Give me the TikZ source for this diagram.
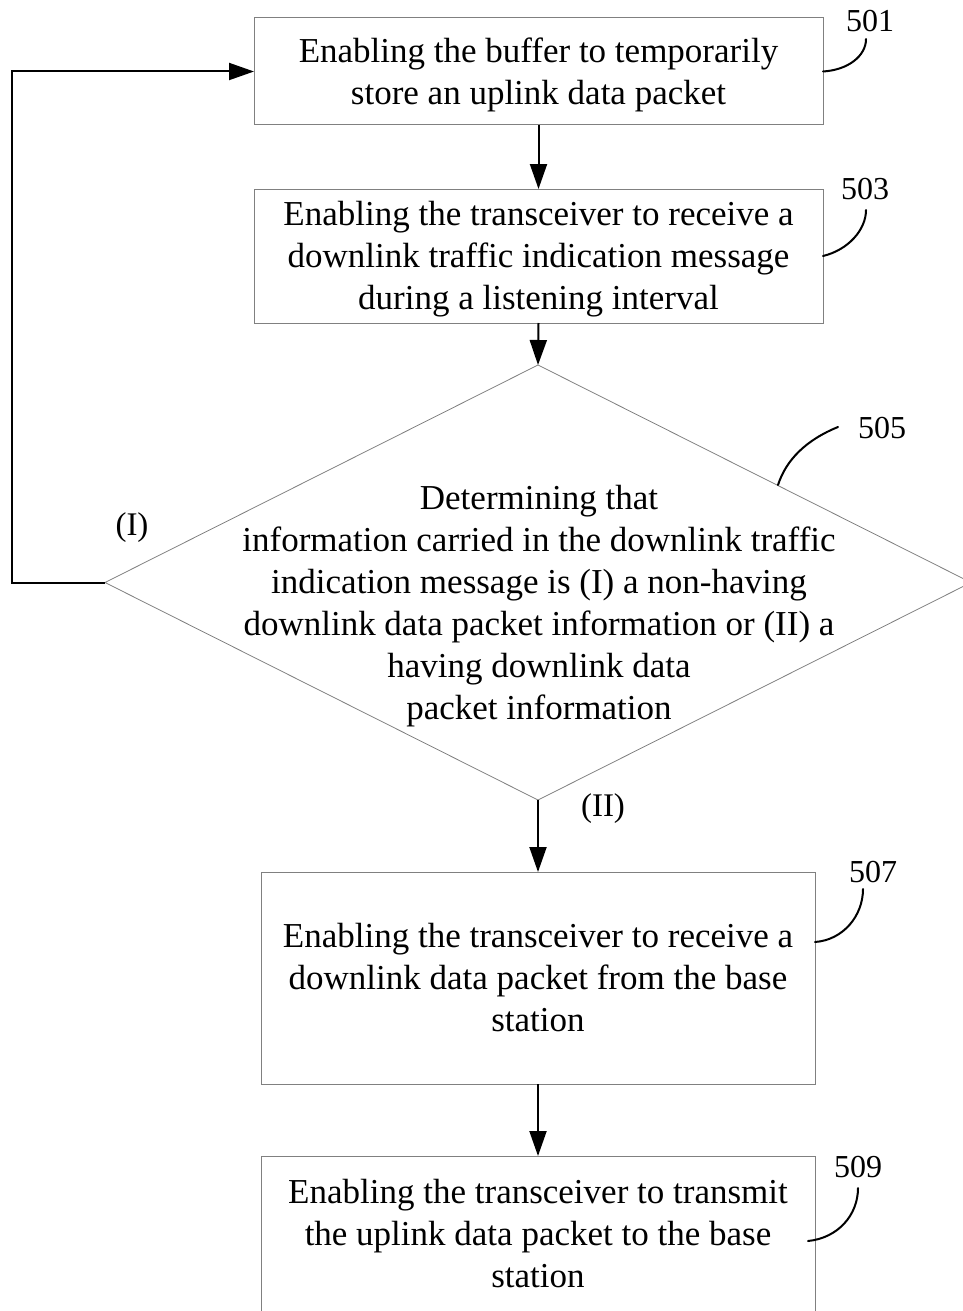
\documentclass[tikz,border=0pt]{standalone}
\usepackage{fontspec}
\setmainfont{Liberation Serif}
\usetikzlibrary{shapes.geometric,arrows.meta}
\definecolor{boxgray}{gray}{0.5}
% extra room above the first line of a step box
\newcommand\firstlinestrut{\rule{0pt}{31pt}}
\begin{document}
\begin{tikzpicture}[x=1pt,y=-1pt,
  stepbox/.style={draw=boxgray, line width=1pt, inner sep=0pt, outer sep=0pt,
    align=center, font=\fontsize{35}{42}\selectfont},
  decision/.style={diamond, draw=boxgray, line width=0.8pt, inner sep=0pt, outer sep=0pt},
  flow/.style={line width=2pt, -{Triangle[length=25pt,width=17pt]}},
  callout/.style={line width=2pt, line cap=round},
  refnum/.style={font=\fontsize{32}{38}\selectfont, inner sep=0pt},
  branch/.style={font=\fontsize{33}{40}\selectfont, inner sep=0pt}]
\useasboundingbox (0,0) rectangle (963,1311);

% process steps
\node[stepbox, minimum width=569pt, minimum height=107pt] (b501) at (538.5,71.5)
  {\firstlinestrut Enabling the buffer to temporarily\\store an uplink data packet};
\node[stepbox, minimum width=569pt, minimum height=134pt] (b503) at (538.5,256)
  {\firstlinestrut Enabling the transceiver to receive a\\downlink traffic indication message\\during a listening interval};
\node[decision, minimum width=866pt, minimum height=435pt] (d505) at (538,582.5) {};
\node[align=center, font=\fontsize{35}{42}\selectfont, inner sep=0pt] (t505) at (539,606)
  {Determining that\\information carried in the downlink traffic\\indication message is (I) a non-having\\downlink data packet information or (II) a\\having downlink data\\packet information};
\node[stepbox, minimum width=554pt, minimum height=212pt] (b507) at (538,978)
  {Enabling the transceiver to receive a\\downlink data packet from the base\\station};
\node[stepbox, minimum width=554pt, minimum height=156pt] (b509) at (538,1234)
  {Enabling the transceiver to transmit\\the uplink data packet to the base\\station};

% flow connectors
\draw[flow] (b501.south) -- (b503.north);
\draw[flow] (b503.south) -- (d505.north);
\draw[flow] (d505.south) -- (b507.north);
\draw[flow] (b507.south) -- (b509.north);
\coordinate (loopcorner) at (12,582.5);
\draw[flow] (d505.west) -- (loopcorner) |- (b501.west);

% branch labels
\node[branch] (brI) at (132,528) {(I)};
\node[branch] (brII) at (603,809) {(II)};

% reference numerals with leader curves
\node[refnum] (l501) at (870,21) {501};
\node[refnum] (l503) at (865,189) {503};
\node[refnum] (l505) at (882,428) {505};
\node[refnum] (l507) at (873,872) {507};
\node[refnum] (l509) at (858,1167) {509};

\coordinate (e501) at (866,39);
\coordinate (e503) at (866,210);
\coordinate (s505) at (778,485);
\coordinate (e505) at (838,427);
\coordinate (s507) at (815,942);
\coordinate (e507) at (863,889);
\coordinate (s509) at (808,1241);
\coordinate (e509) at (858,1188);

\draw[callout] (b501.east) .. controls (848,70) and (866,56) .. (e501);
\draw[callout] (b503.east) .. controls (848,250) and (866,230) .. (e503);
\draw[callout] (s505) .. controls (786,460) and (806,440) .. (e505);
\draw[callout] (s507) .. controls (843,940) and (863,916) .. (e507);
\draw[callout] (s509) .. controls (838,1238) and (858,1215) .. (e509);
\end{tikzpicture}
\end{document}
